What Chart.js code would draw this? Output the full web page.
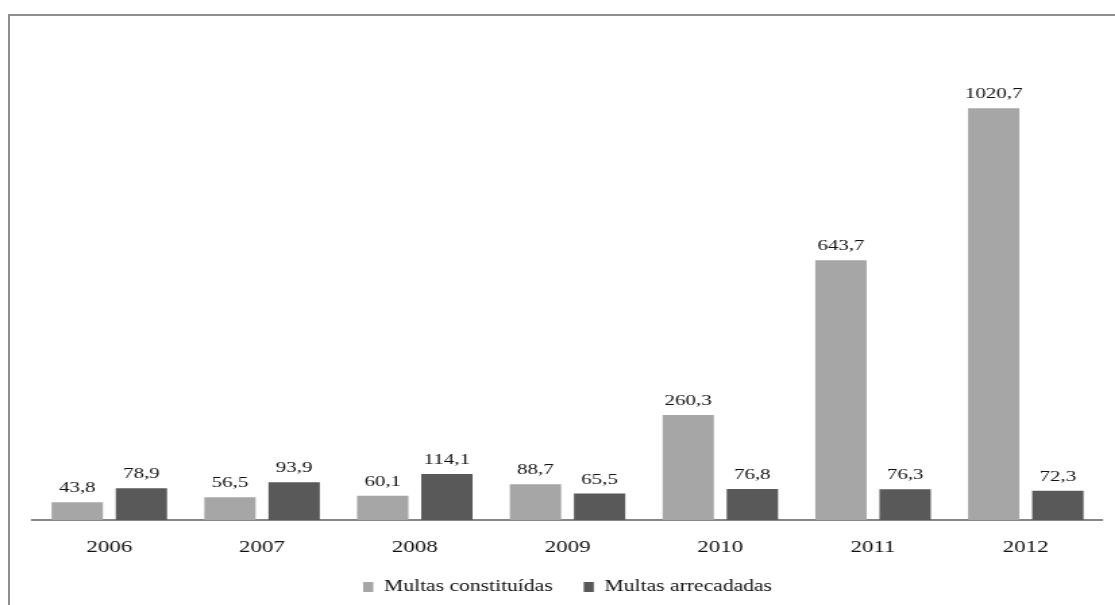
<!DOCTYPE html>
<html>
<head>
<meta charset="utf-8">
<script src="https://cdn.jsdelivr.net/npm/chart.js@4.4.1/dist/chart.umd.min.js"></script>
<style>
  html, body { margin: 0; padding: 0; background: #fff; }
  #wrap { position: relative; width: 1115px; height: 605px; overflow: hidden; }
  #frame {
    position: absolute; left: 8px; top: 14px; width: 1200px; height: 700px;
    border-left: 2px solid #8e8e8e; border-top: 2px solid #8e8e8e;
  }
  /* texto largo: o gráfico é desenhado mais estreito e esticado na horizontal */
  #stretch { position: absolute; left: 0; top: 0; transform: scaleX(1.35); transform-origin: 0 0; }
</style>
</head>
<body>
<div id="wrap">
  <div id="frame"></div>
  <div id="stretch"><canvas id="chart" width="826" height="605"></canvas></div>
</div>
<script>
const anos = ['2006', '2007', '2008', '2009', '2010', '2011', '2012'];
const constituidas = [43.8, 56.5, 60.1, 88.7, 260.3, 643.7, 1020.7];
const arrecadadas = [78.9, 93.9, 114.1, 65.5, 76.8, 76.3, 72.3];

const serif = '"Liberation Serif", "Times New Roman", serif';

// rótulos de valor acima de cada barra, com vírgula decimal
const valueLabels = {
  id: 'valueLabels',
  afterDatasetsDraw(chart) {
    const ctx = chart.ctx;
    ctx.save();
    ctx.font = '15.5px ' + serif;
    ctx.fillStyle = '#111';
    ctx.textAlign = 'center';
    ctx.textBaseline = 'alphabetic';
    chart.data.datasets.forEach((ds, i) => {
      chart.getDatasetMeta(i).data.forEach((bar, j) => {
        const txt = ds.data[j].toFixed(1).replace('.', ',');
        ctx.fillText(txt, bar.x, bar.y - 10);
      });
    });
    ctx.restore();
  }
};

new Chart(document.getElementById('chart'), {
  type: 'bar',
  data: {
    labels: anos,
    datasets: [
      { label: 'Multas constituídas', data: constituidas, backgroundColor: '#a6a6a6' },
      { label: 'Multas arrecadadas', data: arrecadadas, backgroundColor: '#595959' }
    ]
  },
  options: {
    responsive: false,
    animation: false,
    categoryPercentage: 0.84,
    barPercentage: 0.8,
    layout: { padding: { left: 24.4, right: 9.6, top: 36, bottom: 5 } },
    plugins: {
      legend: {
        position: 'bottom',
        maxHeight: 44,
        labels: {
          boxWidth: 7.5, boxHeight: 10, padding: 23,
          color: '#111', font: { family: serif, size: 16 }
        }
      },
      tooltip: { enabled: false }
    },
    scales: {
      x: {
        grid: { display: false, drawTicks: false },
        border: { color: '#868686', width: 2 },
        ticks: { color: '#111', padding: 17, font: { family: serif, size: 17 } },
        afterFit(scale) { scale.height = 36; }
      },
      y: { display: false, min: 0, max: 1200 }
    }
  },
  plugins: [valueLabels]
});
</script>
</body>
</html>
